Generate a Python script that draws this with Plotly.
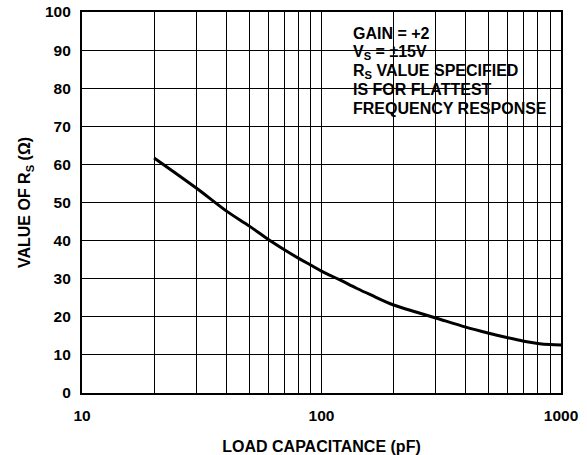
import plotly.graph_objects as go

# Data
load_pf = [20, 30, 40, 50, 60, 70, 80, 90, 100, 120, 140, 160, 200, 250, 300, 400, 500, 600, 700, 800, 900, 1000]
rs_ohm = [61.7, 53.8, 47.8, 43.8, 40.3, 37.6, 35.4, 33.6, 32.0, 29.6, 27.5, 25.8, 23.1, 21.2, 19.7, 17.3, 15.7, 14.5, 13.6, 13.0, 12.7, 12.6]

x_grid = [10, 20, 30, 40, 50, 60, 70, 80, 90, 100, 200, 300, 400, 500, 600, 700, 800, 900, 1000]
x_labels = {10: "10", 100: "100", 1000: "1000"}
y_ticks = [0, 10, 20, 30, 40, 50, 60, 70, 80, 90, 100]

note_lines = [
    "GAIN = +2",
    "V<sub>S</sub> = ±15V",
    "R<sub>S</sub> VALUE SPECIFIED",
    "IS FOR FLATTEST",
    "FREQUENCY RESPONSE",
]

FONT = "Arial, Liberation Sans, Helvetica, sans-serif"

W, H = 587, 455
ML, MR, MT, MB = 82, 26, 12, 62
plot_h = H - MT - MB

fig = go.Figure()
fig.add_trace(go.Scatter(
    x=load_pf, y=rs_ohm, mode="lines",
    line=dict(color="black", width=3, shape="spline", smoothing=1.0),
    showlegend=False, hoverinfo="skip",
))

annotations = []
line_centers_px = [33, 52.5, 71.5, 90, 108.5]  # page y of each note line in the reference
for txt, cy in zip(note_lines, line_centers_px):
    yy = 1 - (cy - MT) / plot_h
    annotations.append(dict(
        xref="paper", yref="paper", x=(351 - 82) / 479, y=yy,
        xanchor="left", yanchor="middle", align="left", showarrow=False,
        text=txt, font=dict(size=16, weight="bold", family=FONT),
    ))

fig.update_layout(
    width=W, height=H,
    margin=dict(l=ML, r=MR, t=MT, b=MB, autoexpand=False),
    paper_bgcolor="white", plot_bgcolor="white",
    font=dict(family=FONT, color="black", size=15),
    xaxis=dict(
        type="log", range=[1, 3],
        tickvals=x_grid,
        ticktext=[x_labels.get(v, "") for v in x_grid],
        tickfont=dict(size=15.5, weight="bold"),
        showgrid=True, gridcolor="black", gridwidth=1.4,
        showline=True, linecolor="black", linewidth=2.2, mirror=True,
        ticks="", ticklabelstandoff=7, ticklabeloverflow="allow",
        zeroline=False, automargin=False,
        title=dict(text="LOAD CAPACITANCE (pF)", font=dict(size=16, weight="bold"), standoff=20),
    ),
    yaxis=dict(
        range=[0, 100],
        tickvals=y_ticks,
        tickfont=dict(size=15.5, weight="bold"),
        showgrid=True, gridcolor="black", gridwidth=1.4,
        showline=True, linecolor="black", linewidth=2.2, mirror=True,
        ticks="", ticklabelstandoff=6, ticklabeloverflow="allow",
        zeroline=False, automargin=False,
        title=dict(text="VALUE OF R<sub>S</sub> (Ω)", font=dict(size=16, weight="bold"), standoff=10),
    ),
    shapes=[dict(
        type="rect", xref="paper", yref="paper",
        x0=(343 - 82) / 479, x1=(550 - 82) / 479,
        y0=1 - (116 - MT) / plot_h, y1=0.994,
        fillcolor="white", line=dict(width=0), layer="between",
    )],
    annotations=annotations,
)

# remove the browser's default 8px body margin so the figure sits at the page origin
fig.write_html(
    "out.html",
    config={"displayModeBar": False},
    post_script="document.body.style.margin='0';",
)
